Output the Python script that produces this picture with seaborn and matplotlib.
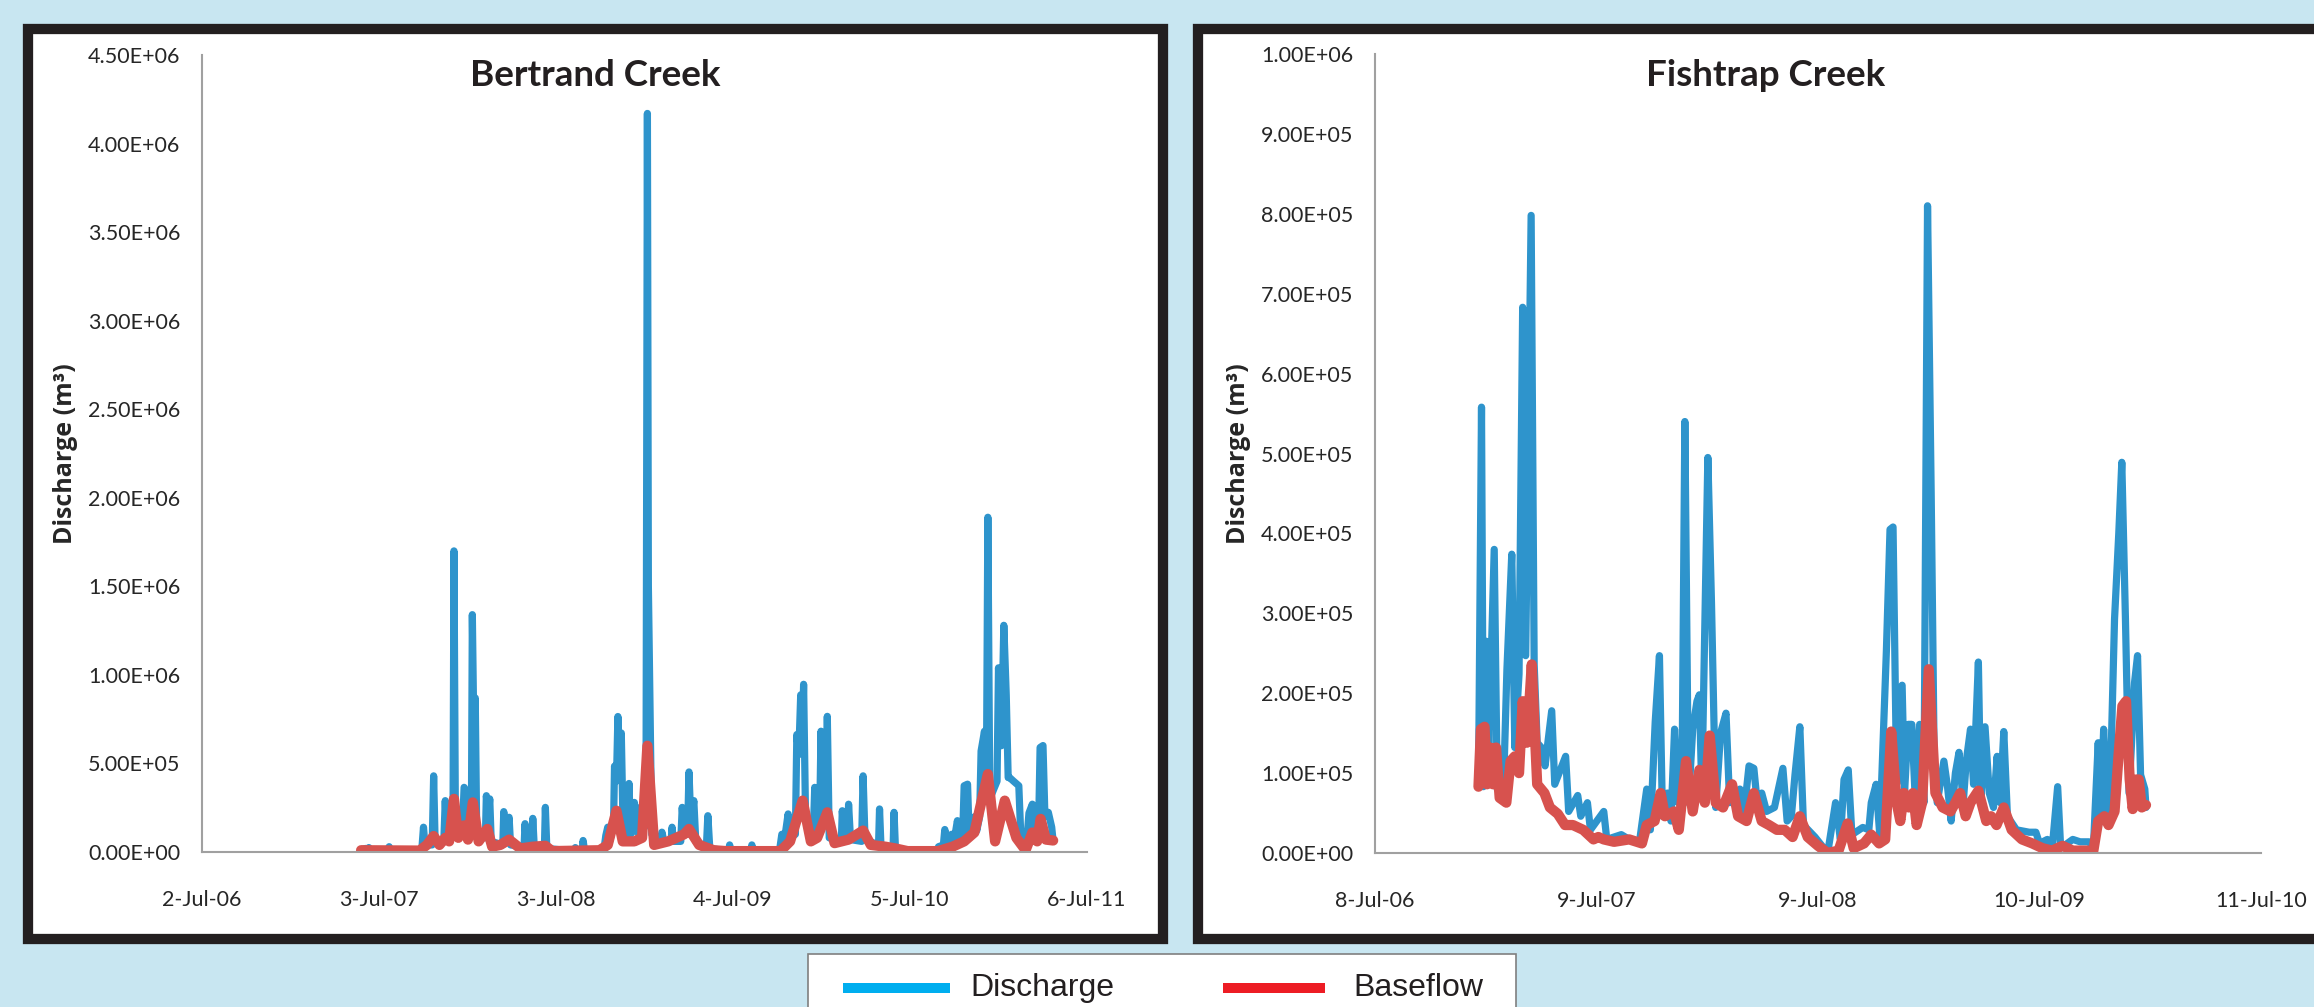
import matplotlib
matplotlib.use("Agg")
import matplotlib.pyplot as plt
import matplotlib.ticker as mticker
from matplotlib.patches import Rectangle
from matplotlib.lines import Line2D
import seaborn as sns
import pandas as pd

# ---------------- DATA ----------------
bertrand_q_dates = [
    "2007-05-27", "2007-06-05", "2007-06-08", "2007-06-12", "2007-06-15", "2007-07-20", "2007-07-24", "2007-07-27",
    "2007-09-25", "2007-09-30", "2007-10-03", "2007-10-06", "2007-10-21", "2007-10-24", "2007-10-27", "2007-11-14",
    "2007-11-17", "2007-11-20", "2007-12-03", "2007-12-05", "2007-12-08", "2007-12-22", "2007-12-26", "2007-12-29",
    "2008-01-01", "2008-01-10", "2008-01-12", "2008-01-15", "2008-01-18", "2008-01-21", "2008-02-08", "2008-02-10",
    "2008-02-14", "2008-02-17", "2008-02-20", "2008-03-15", "2008-03-17", "2008-03-21", "2008-03-28", "2008-03-31",
    "2008-04-28", "2008-04-30", "2008-05-03", "2008-05-14", "2008-05-16", "2008-05-19", "2008-06-09", "2008-06-11",
    "2008-06-14", "2008-08-10", "2008-08-12", "2008-08-15", "2008-08-26", "2008-08-28", "2008-08-31", "2008-10-10",
    "2008-10-14", "2008-10-18", "2008-10-22", "2008-10-30", "2008-11-01", "2008-11-05", "2008-11-08", "2008-11-12",
    "2008-11-15", "2008-11-19", "2008-11-29", "2008-12-01", "2008-12-04", "2008-12-10", "2008-12-12", "2008-12-15",
    "2008-12-18", "2008-12-21", "2009-01-05", "2009-01-08", "2009-01-10", "2009-01-13", "2009-01-17", "2009-02-05",
    "2009-02-07", "2009-02-12", "2009-02-26", "2009-02-28", "2009-03-03", "2009-03-18", "2009-03-21", "2009-03-25",
    "2009-04-01", "2009-04-04", "2009-04-08", "2009-04-14", "2009-04-18", "2009-05-10", "2009-05-13", "2009-05-17",
    "2009-06-25", "2009-06-27", "2009-06-30", "2009-08-10", "2009-08-12", "2009-08-15", "2009-10-08", "2009-10-13",
    "2009-10-18", "2009-10-26", "2009-10-30", "2009-11-10", "2009-11-13", "2009-11-17", "2009-11-21", "2009-11-24",
    "2009-11-27", "2009-12-01", "2009-12-17", "2009-12-20", "2009-12-24", "2009-12-30", "2010-01-02", "2010-01-06",
    "2010-01-12", "2010-01-15", "2010-01-19", "2010-02-13", "2010-02-15", "2010-02-19", "2010-02-26", "2010-02-28",
    "2010-03-04", "2010-03-27", "2010-03-30", "2010-04-03", "2010-05-01", "2010-05-03", "2010-05-06", "2010-05-31",
    "2010-06-02", "2010-06-05", "2010-06-20", "2010-08-30", "2010-09-02", "2010-09-12", "2010-09-15", "2010-09-19",
    "2010-09-29", "2010-10-04", "2010-10-11", "2010-10-15", "2010-10-22", "2010-10-25", "2010-11-01", "2010-11-04",
    "2010-11-16", "2010-11-20", "2010-11-26", "2010-11-29", "2010-12-06", "2010-12-10", "2010-12-13", "2010-12-17",
    "2011-01-01", "2011-01-04", "2011-01-10", "2011-01-15", "2011-01-20", "2011-01-24", "2011-01-27", "2011-02-04",
    "2011-02-15", "2011-02-19", "2011-03-04", "2011-03-08", "2011-03-15", "2011-03-19", "2011-03-28", "2011-03-31",
    "2011-04-06", "2011-04-10", "2011-04-17", "2011-04-24", "2011-04-27",
]
bertrand_q = [
    10e3, 20e3, 8e3, 25e3, 5e3, 5e3, 30e3, 5e3,
    5e3, 30e3, 140e3, 40e3, 40e3, 430e3, 60e3, 60e3,
    290e3, 100e3, 120e3, 1700e3, 150e3, 100e3, 365e3, 350e3,
    200e3, 150e3, 1340e3, 700e3, 870e3, 120e3, 80e3, 318e3,
    200e3, 300e3, 60e3, 40e3, 228e3, 70e3, 196e3, 40e3,
    30e3, 160e3, 30e3, 40e3, 190e3, 30e3, 20e3, 252e3,
    20e3, 5e3, 25e3, 5e3, 5e3, 65e3, 10e3, 10e3,
    93e3, 140e3, 60e3, 150e3, 485e3, 400e3, 765e3, 500e3,
    672e3, 100e3, 100e3, 387e3, 100e3, 120e3, 280e3, 200e3,
    250e3, 100e3, 150e3, 4170e3, 1500e3, 905e3, 100e3, 60e3,
    112e3, 50e3, 60e3, 140e3, 60e3, 60e3, 252e3, 100e3,
    100e3, 452e3, 150e3, 290e3, 60e3, 30e3, 205e3, 20e3,
    5e3, 40e3, 5e3, 5e3, 40e3, 5e3, 5e3, 100e3,
    60e3, 215e3, 80e3, 100e3, 663e3, 550e3, 887e3, 600e3,
    947e3, 200e3, 100e3, 365e3, 100e3, 150e3, 682e3, 200e3,
    150e3, 766e3, 80e3, 60e3, 233e3, 90e3, 80e3, 270e3,
    70e3, 60e3, 430e3, 70e3, 40e3, 243e3, 30e3, 20e3,
    224e3, 10e3, 5e3, 5e3, 30e3, 40e3, 127e3, 40e3,
    100e3, 60e3, 177e3, 80e3, 100e3, 374e3, 383e3, 120e3,
    200e3, 120e3, 200e3, 570e3, 682e3, 400e3, 1890e3, 300e3,
    400e3, 1040e3, 600e3, 1280e3, 887e3, 420e3, 420e3, 400e3,
    374e3, 100e3, 80e3, 220e3, 270e3, 100e3, 150e3, 590e3,
    601e3, 200e3, 224e3, 140e3, 60e3,
]

bertrand_b_dates = [
    "2007-05-27", "2007-09-25", "2007-10-10", "2007-10-24", "2007-11-05", "2007-11-17", "2007-11-25", "2007-12-05",
    "2007-12-14", "2007-12-26", "2008-01-03", "2008-01-13", "2008-01-25", "2008-02-12", "2008-02-22", "2008-03-10",
    "2008-03-28", "2008-04-20", "2008-05-16", "2008-06-11", "2008-06-25", "2008-10-01", "2008-10-18", "2008-11-05",
    "2008-11-18", "2008-12-12", "2008-12-28", "2009-01-08", "2009-01-22", "2009-02-20", "2009-03-25", "2009-04-04",
    "2009-04-25", "2009-05-25", "2009-06-20", "2009-10-10", "2009-10-30", "2009-11-25", "2009-12-12", "2009-12-25",
    "2010-01-15", "2010-01-30", "2010-02-28", "2010-03-30", "2010-04-15", "2010-05-15", "2010-06-05", "2010-06-30",
    "2010-09-01", "2010-10-01", "2010-10-25", "2010-11-15", "2010-12-13", "2010-12-28", "2011-01-17", "2011-02-10",
    "2011-03-01", "2011-03-15", "2011-03-25", "2011-04-01", "2011-04-12", "2011-04-27",
]
bertrand_b = [
    10e3, 8e3, 40e3, 90e3, 40e3, 80e3, 60e3, 300e3,
    80e3, 150e3, 70e3, 280e3, 60e3, 130e3, 30e3, 40e3,
    70e3, 20e3, 30e3, 35e3, 5e3, 10e3, 40e3, 233e3,
    60e3, 60e3, 80e3, 600e3, 40e3, 60e3, 100e3, 130e3,
    40e3, 10e3, 5e3, 5e3, 60e3, 290e3, 60e3, 80e3,
    224e3, 50e3, 70e3, 121e3, 40e3, 30e3, 20e3, 5e3,
    5e3, 30e3, 60e3, 110e3, 440e3, 60e3, 290e3, 80e3,
    10e3, 110e3, 60e3, 187e3, 70e3, 65e3,
]

fishtrap_q_dates = [
    "2006-12-26", "2006-12-31", "2007-01-03", "2007-01-08", "2007-01-12", "2007-01-16", "2007-01-21", "2007-01-26",
    "2007-02-06", "2007-02-11", "2007-02-19", "2007-02-24", "2007-03-03", "2007-03-09", "2007-03-14", "2007-03-23",
    "2007-03-28", "2007-04-02", "2007-04-09", "2007-04-15", "2007-04-26", "2007-05-01", "2007-05-19", "2007-05-24",
    "2007-06-08", "2007-06-13", "2007-06-24", "2007-06-29", "2007-07-21", "2007-07-26", "2007-08-19", "2007-09-01",
    "2007-09-18", "2007-09-30", "2007-10-06", "2007-10-14", "2007-10-21", "2007-10-26", "2007-11-03", "2007-11-09",
    "2007-11-15", "2007-11-21", "2007-11-27", "2007-12-02", "2007-12-08", "2007-12-15", "2007-12-22", "2007-12-26",
    "2007-12-30", "2008-01-09", "2008-01-15", "2008-01-22", "2008-01-30", "2008-02-08", "2008-02-14", "2008-03-02",
    "2008-03-09", "2008-03-17", "2008-03-25", "2008-04-01", "2008-04-07", "2008-04-15", "2008-04-28", "2008-05-12",
    "2008-05-19", "2008-05-26", "2008-06-01", "2008-06-09", "2008-06-15", "2008-07-04", "2008-07-25", "2008-08-07",
    "2008-08-15", "2008-08-21", "2008-08-28", "2008-09-03", "2008-09-21", "2008-10-01", "2008-10-05", "2008-10-13",
    "2008-10-19", "2008-10-30", "2008-11-05", "2008-11-10", "2008-11-16", "2008-11-25", "2008-11-29", "2008-12-05",
    "2008-12-11", "2008-12-17", "2008-12-24", "2008-12-31", "2009-01-06", "2009-01-12", "2009-01-17", "2009-01-22",
    "2009-02-02", "2009-02-08", "2009-02-14", "2009-02-21", "2009-02-27", "2009-03-06", "2009-03-11", "2009-03-18",
    "2009-03-23", "2009-03-31", "2009-04-04", "2009-04-11", "2009-04-18", "2009-04-25", "2009-05-01", "2009-05-06",
    "2009-05-12", "2009-05-18", "2009-06-02", "2009-06-23", "2009-07-04", "2009-07-10", "2009-07-23", "2009-07-31",
    "2009-08-09", "2009-08-14", "2009-09-03", "2009-09-15", "2009-09-30", "2009-10-07", "2009-10-15", "2009-10-19",
    "2009-10-24", "2009-10-30", "2009-11-05", "2009-11-11", "2009-11-18", "2009-11-23", "2009-11-29", "2009-12-05",
    "2009-12-14", "2009-12-19", "2009-12-24", "2009-12-31", "2010-01-02",
]
fishtrap_q = [
    83e3, 558e3, 83e3, 265e3, 132e3, 242e3, 380e3, 80e3,
    98e3, 230e3, 374e3, 132e3, 224e3, 683e3, 247e3, 798e3,
    236e3, 138e3, 132e3, 109e3, 178e3, 86e3, 121e3, 52e3,
    72e3, 46e3, 63e3, 29e3, 52e3, 17e3, 23e3, 17e3,
    14e3, 80e3, 29e3, 164e3, 247e3, 46e3, 75e3, 40e3,
    155e3, 63e3, 63e3, 540e3, 63e3, 155e3, 190e3, 198e3,
    75e3, 495e3, 313e3, 57e3, 150e3, 175e3, 63e3, 80e3,
    52e3, 109e3, 106e3, 52e3, 75e3, 52e3, 57e3, 106e3,
    40e3, 46e3, 98e3, 158e3, 35e3, 20e3, 0, 63e3,
    17e3, 92e3, 104e3, 23e3, 32e3, 29e3, 63e3, 86e3,
    23e3, 253e3, 405e3, 408e3, 86e3, 210e3, 75e3, 161e3,
    161e3, 63e3, 161e3, 63e3, 810e3, 451e3, 115e3, 63e3,
    115e3, 83e3, 40e3, 100e3, 126e3, 63e3, 115e3, 155e3,
    86e3, 239e3, 63e3, 158e3, 75e3, 57e3, 121e3, 63e3,
    152e3, 46e3, 29e3, 26e3, 26e3, 12e3, 17e3, 6e3,
    83e3, 6e3, 17e3, 14e3, 14e3, 6e3, 138e3, 46e3,
    155e3, 46e3, 115e3, 293e3, 400e3, 489e3, 293e3, 75e3,
    213e3, 247e3, 98e3, 80e3, 57e3,
]

fishtrap_b_dates = [
    "2006-12-26", "2006-12-30", "2007-01-05", "2007-01-09", "2007-01-14", "2007-01-19", "2007-01-24", "2007-01-30",
    "2007-02-10", "2007-02-17", "2007-02-24", "2007-03-03", "2007-03-09", "2007-03-16", "2007-03-24", "2007-04-02",
    "2007-04-14", "2007-04-23", "2007-05-06", "2007-05-18", "2007-05-31", "2007-06-17", "2007-07-04", "2007-07-12",
    "2007-07-21", "2007-08-07", "2007-09-01", "2007-09-22", "2007-09-30", "2007-10-13", "2007-10-23", "2007-10-30",
    "2007-11-14", "2007-11-22", "2007-12-04", "2007-12-15", "2007-12-26", "2008-01-04", "2008-01-12", "2008-01-22",
    "2008-02-03", "2008-02-18", "2008-02-28", "2008-03-13", "2008-03-25", "2008-04-07", "2008-04-19", "2008-05-02",
    "2008-05-15", "2008-05-28", "2008-06-09", "2008-06-22", "2008-07-09", "2008-07-25", "2008-08-12", "2008-08-27",
    "2008-09-06", "2008-09-23", "2008-10-05", "2008-10-18", "2008-10-28", "2008-11-07", "2008-11-16", "2008-11-22",
    "2008-11-28", "2008-12-06", "2008-12-13", "2008-12-19", "2008-12-28", "2009-01-08", "2009-01-19", "2009-01-31",
    "2009-02-13", "2009-02-21", "2009-03-01", "2009-03-10", "2009-03-18", "2009-03-31", "2009-04-13", "2009-04-21",
    "2009-04-30", "2009-05-12", "2009-05-25", "2009-06-11", "2009-06-28", "2009-07-15", "2009-07-31", "2009-08-17",
    "2009-09-03", "2009-09-20", "2009-10-07", "2009-10-15", "2009-10-25", "2009-11-01", "2009-11-11", "2009-11-18",
    "2009-11-24", "2009-11-30", "2009-12-06", "2009-12-11", "2009-12-17", "2009-12-21", "2009-12-26", "2010-01-02",
]
fishtrap_b = [
    83e3, 155e3, 158e3, 86e3, 132e3, 86e3, 132e3, 69e3,
    63e3, 115e3, 121e3, 100e3, 190e3, 138e3, 236e3, 86e3,
    75e3, 57e3, 49e3, 35e3, 35e3, 29e3, 17e3, 20e3,
    17e3, 14e3, 17e3, 12e3, 35e3, 40e3, 75e3, 46e3,
    52e3, 29e3, 115e3, 52e3, 104e3, 63e3, 147e3, 63e3,
    57e3, 86e3, 46e3, 40e3, 75e3, 40e3, 35e3, 29e3,
    29e3, 20e3, 46e3, 20e3, 9e3, 0, 3e3, 37e3,
    6e3, 12e3, 23e3, 12e3, 17e3, 152e3, 63e3, 40e3,
    75e3, 57e3, 75e3, 35e3, 63e3, 230e3, 75e3, 57e3,
    52e3, 63e3, 75e3, 46e3, 63e3, 78e3, 40e3, 46e3,
    35e3, 57e3, 29e3, 17e3, 12e3, 6e3, 3e3, 9e3,
    3e3, 3e3, 3e3, 40e3, 46e3, 35e3, 52e3, 126e3,
    184e3, 190e3, 92e3, 55e3, 92e3, 92e3, 57e3, 60e3,
]

bertrand_xticks = ["2006-07-02", "2007-07-03", "2008-07-03", "2009-07-04", "2010-07-05", "2011-07-06"]
bertrand_xlabels = ["2-Jul-06", "3-Jul-07", "3-Jul-08", "4-Jul-09", "5-Jul-10", "6-Jul-11"]
bertrand_yticks = [0, 5e5, 1e6, 1.5e6, 2e6, 2.5e6, 3e6, 3.5e6, 4e6, 4.5e6]
fishtrap_xticks = ["2006-07-08", "2007-07-09", "2008-07-09", "2009-07-10", "2010-07-11"]
fishtrap_xlabels = ["8-Jul-06", "9-Jul-07", "9-Jul-08", "10-Jul-09", "11-Jul-10"]
fishtrap_yticks = [0, 1e5, 2e5, 3e5, 4e5, 5e5, 6e5, 7e5, 8e5, 9e5, 1e6]

titles = ["Bertrand Creek", "Fishtrap Creek"]
ylabel = "Discharge (m³)"
legend_labels = ["Discharge", "Baseflow"]

# ---------------- STYLE ----------------
sns.set_theme(style="white")
plt.rcParams["font.family"] = ["Lato", "DejaVu Sans"]

BG = "#C8E6F1"
FRAME = "#231F20"
BLUE = "#2E94CC"
RED = "#D7524E"
AXC = "#A0A0A0"
TXT = "#262626"

W, H = 2314, 1007
fig = plt.figure(figsize=(W / 100, H / 100), dpi=100, facecolor=BG)


def fx(px):
    return px / W


def fy(py):
    return 1 - py / H


# panel frames (Excel chart areas)
for x0, x1 in [(28, 1163), (1198, 2333)]:
    fig.add_artist(Rectangle((fx(x0), fy(939)), fx(x1) - fx(x0), fy(29) - fy(939),
                             transform=fig.transFigure, facecolor="white",
                             edgecolor=FRAME, linewidth=7.4, zorder=-1))

panels = [
    dict(rect=[fx(202), fy(852), fx(1087) - fx(202), fy(55) - fy(852)],
         qd=bertrand_q_dates, q=bertrand_q, bd=bertrand_b_dates, b=bertrand_b,
         xlim=("2006-07-02", "2011-07-06"), xt=bertrand_xticks, xl=bertrand_xlabels,
         yt=bertrand_yticks, title=titles[0], tx=595),
    dict(rect=[fx(1375), fy(853), fx(2261) - fx(1375), fy(54) - fy(853)],
         qd=fishtrap_q_dates, q=fishtrap_q, bd=fishtrap_b_dates, b=fishtrap_b,
         xlim=("2006-07-08", "2010-07-11"), xt=fishtrap_xticks, xl=fishtrap_xlabels,
         yt=fishtrap_yticks, title=titles[1], tx=1766),
]

for p in panels:
    ax = fig.add_axes(p["rect"])
    ax.set_facecolor("none")
    dq = pd.DataFrame({"date": pd.to_datetime(p["qd"]), "value": p["q"]})
    db = pd.DataFrame({"date": pd.to_datetime(p["bd"]), "value": p["b"]})
    sns.lineplot(data=dq, x="date", y="value", ax=ax, color=BLUE, linewidth=5.2,
                 estimator=None, sort=False, solid_joinstyle="round", solid_capstyle="round")
    sns.lineplot(data=db, x="date", y="value", ax=ax, color=RED, linewidth=7.4,
                 estimator=None, sort=False, solid_joinstyle="round", solid_capstyle="round")
    ax.set_xlim(pd.Timestamp(p["xlim"][0]), pd.Timestamp(p["xlim"][1]))
    ax.set_ylim(p["yt"][0], p["yt"][-1])
    ax.set_xticks(pd.to_datetime(p["xt"]), labels=p["xl"])
    ax.set_yticks(p["yt"])
    ax.yaxis.set_major_formatter(mticker.FormatStrFormatter("%.2E"))
    for s in ["top", "right"]:
        ax.spines[s].set_visible(False)
    for s in ["left", "bottom"]:
        ax.spines[s].set_color(AXC)
        ax.spines[s].set_linewidth(1.5)
    ax.tick_params(axis="both", direction="out", length=5.5, width=1.5, color=AXC,
                   labelsize=15.5, labelcolor=TXT)
    ax.tick_params(axis="y", pad=10)
    ax.tick_params(axis="x", pad=22)
    ax.set_xlabel("")
    ax.set_ylabel(ylabel, fontsize=18, fontweight="bold", color=TXT,
                  family=["Open Sans", "DejaVu Sans"])
    ax.yaxis.set_label_coords(-0.14, 0.5)
    fig.text(fx(p["tx"]), fy(75), p["title"], ha="center", va="center",
             fontsize=26.5, fontweight="bold", color=FRAME)

# legend box
fig.add_artist(Rectangle((fx(808), fy(1030)), fx(1516) - fx(808), fy(954) - fy(1030),
                         transform=fig.transFigure, facecolor="white",
                         edgecolor="#7F7F7F", linewidth=1.2))
for (l0, l1, tx0), col, lab in zip([(843, 950, 970), (1223, 1325, 1353)],
                                   ["#00AEEF", "#ED1C24"], legend_labels):
    fig.add_artist(Line2D([fx(l0), fx(l1)], [fy(988), fy(988)], transform=fig.transFigure,
                          color=col, linewidth=7.2, solid_capstyle="butt"))
    fig.text(fx(tx0), fy(988), lab, ha="left", va="center", fontsize=23, color=FRAME,
             family=["Liberation Sans", "DejaVu Sans"])

fig.savefig("out.png", dpi=100, facecolor=BG)
